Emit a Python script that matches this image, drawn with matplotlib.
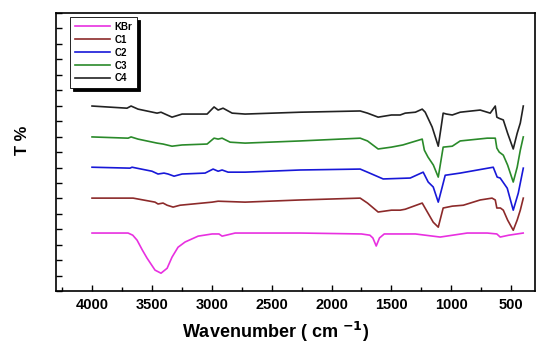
import matplotlib
matplotlib.use("Agg")
import matplotlib.pyplot as plt
from matplotlib.ticker import MultipleLocator, NullFormatter

plt.rcParams["font.family"] = ["Liberation Sans", "DejaVu Sans"]
plt.rcParams["font.weight"] = "bold"

# FTIR traces (wavenumber cm-1, T % in offset units)
kbr_wn = [4000, 3699, 3660, 3624, 3580, 3541, 3474, 3424, 3373, 3332, 3282, 3223, 3114,
          2997, 2940, 2914, 2880, 2805, 2262, 1750, 1680, 1655, 1627, 1600, 1560, 1300,
          1093, 867, 700, 620, 592, 520, 400]
kbr_t = [18.8, 18.8, 18.1, 16.5, 13.3, 10.7, 6.8, 5.8, 7.4, 11.0, 14.2, 15.9, 17.8,
         18.5, 18.5, 17.8, 18.1, 18.8, 18.8, 18.5, 18.1, 17.2, 14.6, 17.2, 18.5, 18.5,
         17.5, 18.8, 18.8, 18.5, 17.5, 18.1, 18.8]

c1_wn = [4000, 3657, 3474, 3449, 3407, 3373, 3323, 3265, 2997, 2947, 2722, 2262, 1761,
         1700, 1611, 1500, 1427, 1385, 1243, 1200, 1151, 1109, 1068, 992, 900, 759, 660,
         633, 620, 590, 566, 530, 483, 450, 424, 399]
c1_t = [30.1, 30.1, 28.8, 28.2, 28.5, 27.8, 27.2, 27.8, 28.8, 29.1, 28.8, 29.5, 30.1,
        28.5, 25.6, 26.2, 26.2, 26.5, 28.5, 25.6, 22.3, 20.7, 26.9, 27.5, 27.8, 29.5, 30.1,
        29.5, 26.9, 26.9, 26.2, 23.0, 19.7, 23.0, 26.2, 30.1]

c2_wn = [4000, 3683, 3666, 3499, 3449, 3399, 3365, 3315, 3248, 3056, 2989, 2947, 2914,
         2864, 2722, 2262, 1761, 1700, 1569, 1343, 1235, 1193, 1151, 1109, 1076, 1051,
         926, 650, 617, 592, 533, 483, 441, 399]
c2_t = [40.1, 39.8, 40.1, 38.8, 37.9, 38.2, 37.9, 37.2, 37.9, 38.2, 39.5, 38.8, 39.2,
        38.5, 38.5, 39.2, 39.5, 38.5, 36.3, 36.6, 38.5, 35.3, 33.7, 28.8, 33.7, 37.5,
        38.2, 40.1, 36.9, 36.6, 33.3, 26.2, 31.7, 39.8]

c3_wn = [4000, 3699, 3674, 3616, 3457, 3407, 3332, 3248, 3039, 2981, 2947, 2914, 2847,
         2722, 2262, 1761, 1700, 1611, 1500, 1405, 1243, 1225, 1195, 1150, 1109, 1068,
         992, 926, 700, 633, 620, 600, 566, 530, 483, 450, 424, 399]
c3_t = [49.9, 49.5, 49.9, 49.2, 47.9, 47.6, 46.9, 47.3, 47.6, 49.5, 49.2, 49.5, 48.2,
        47.9, 48.6, 49.5, 48.6, 46.0, 46.6, 47.3, 49.2, 45.6, 43.4, 40.8, 36.9, 46.6,
        46.9, 48.6, 49.5, 49.5, 46.3, 45.0, 44.0, 40.8, 35.3, 40.1, 45.6, 49.9]

c4_wn = [4000, 3708, 3674, 3616, 3457, 3424, 3390, 3332, 3248, 3039, 2981, 2947, 2906,
         2830, 2722, 2262, 1761, 1700, 1611, 1500, 1427, 1385, 1300, 1243, 1218, 1160,
         1109, 1085, 1068, 1040, 992, 926, 759, 675, 633, 620, 600, 566, 530, 483, 450,
         424, 399]
c4_t = [59.9, 59.2, 59.9, 58.9, 57.6, 57.9, 57.3, 56.3, 57.3, 57.3, 59.6, 58.6, 59.2,
        57.6, 57.3, 57.9, 58.3, 57.6, 56.3, 57.0, 57.0, 57.6, 57.9, 58.9, 57.9, 53.1,
        46.9, 53.1, 57.6, 57.3, 57.0, 57.9, 58.6, 57.6, 59.9, 56.3, 55.9, 55.4, 51.1,
        46.0, 51.1, 54.4, 59.9]

series = [
    ("KBr", kbr_wn, kbr_t, "#e830e0"),
    ("C1", c1_wn, c1_t, "#8c2a2a"),
    ("C2", c2_wn, c2_t, "#1818d8"),
    ("C3", c3_wn, c3_t, "#2a8a2a"),
    ("C4", c4_wn, c4_t, "#222222"),
]

fig = plt.figure(figsize=(5.5, 3.47), dpi=100)
ax = fig.add_axes([0.102, 0.161, 0.871, 0.8015])

for name, wn, t, col in series:
    ax.plot(wn, t, color=col, lw=1.2, label=name)

ax.set_xlim(4300, 300)
ax.set_ylim(0, 90)
ax.xaxis.set_major_locator(MultipleLocator(500))
ax.xaxis.set_minor_locator(MultipleLocator(250))
ax.yaxis.set_major_locator(MultipleLocator(5))
ax.yaxis.set_major_formatter(NullFormatter())
ax.tick_params(which="both", direction="in", width=1.0)
ax.tick_params(axis="x", which="major", length=4, labelsize=10.5, pad=5)
ax.tick_params(axis="x", which="minor", length=3)
ax.tick_params(axis="y", length=4)
for lab in ax.get_xticklabels():
    lab.set_fontweight("bold")
for s in ax.spines.values():
    s.set_linewidth(1.2)

ax.set_xlabel("Wavenumber ( cm $^{\\mathbf{-1}}$)", fontsize=13, fontweight="bold", va="center")
ax.xaxis.set_label_coords(0.457, -0.145)
ax.set_ylabel("T %", fontsize=12, fontweight="bold", va="center")
ax.yaxis.set_label_coords(-0.071, 0.543)

leg = ax.legend(loc="upper left", bbox_to_anchor=(0.029, 0.986), borderaxespad=0,
                fontsize=7, frameon=True, fancybox=False, handlelength=3.6,
                labelspacing=0.3, borderpad=0.5, handletextpad=0.5,
                shadow={"color": "black", "alpha": 1.0})
leg.get_frame().set_edgecolor("black")
leg.get_frame().set_linewidth(0.6)
for txt in leg.get_texts():
    txt.set_fontweight("bold")

fig.savefig("out.png", dpi=100)
